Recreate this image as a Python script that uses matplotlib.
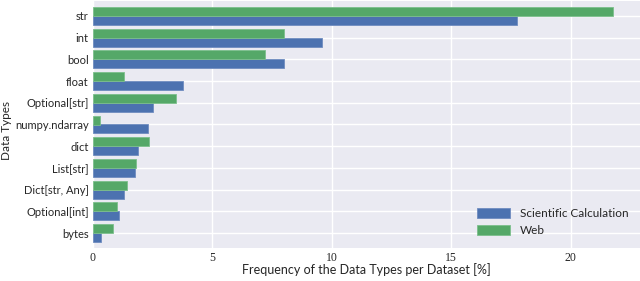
import matplotlib
matplotlib.use("Agg")
import matplotlib.pyplot as plt
import numpy as np

# data types, top to bottom
types = ["str", "int", "bool", "float", "Optional[str]", "numpy.ndarray",
         "dict", "List[str]", "Dict[str, Any]", "Optional[int]", "bytes"]
scientific = [17.75, 9.6, 7.98, 3.78, 2.51, 2.29, 1.87, 1.74, 1.31, 1.10, 0.33]
web = [21.77, 8.0, 7.18, 1.30, 3.46, 0.28, 2.34, 1.80, 1.42, 0.99, 0.85]

blue = "#4C72B0"
green = "#55A868"

fig = plt.figure(figsize=(6.4, 2.81), dpi=100)
ax = fig.add_axes([93 / 640, 33 / 281, 547 / 640, 247 / 281])
ax.set_facecolor("#EAEAF2")

pos = np.arange(len(types))[::-1]
h = 0.41
ax.barh(pos - h / 2, scientific, height=h, color=blue, edgecolor="#6f8cc0",
        linewidth=0.6, label="Scientific Calculation", zorder=2)
ax.barh(pos + h / 2, web, height=h, color=green, edgecolor="#7cbf8c",
        linewidth=0.6, label="Web", zorder=2)

ax.set_yticks(pos)
ax.set_yticklabels(types, family="Lato", fontsize=8, color="#262626")
ax.set_xticks([0, 5, 10, 15, 20])
ax.set_xticklabels(["0", "5", "10", "15", "20"], family="Liberation Serif",
                   fontsize=8.5, color="#262626")
ax.set_xlim(0, 22.9)
ax.set_ylim(-0.69, len(types) - 1 + 0.69)
ax.tick_params(length=0, pad=3)
ax.grid(True, color="white", linewidth=1.0, zorder=0)
ax.set_axisbelow(True)
for s in ax.spines.values():
    s.set_visible(False)

ax.set_xlabel("Frequency of the Data Types per Dataset [%]", family="Lato",
              fontsize=9, color="#262626", va="center")
ax.set_ylabel("Data Types", family="Lato", fontsize=8.5, color="#262626",
              va="center")
ax.xaxis.set_label_coords((366 - 93) / 547, (248 - 270) / 247)
ax.yaxis.set_label_coords((7 - 93) / 547, (248 - 131) / 247)

leg = ax.legend(loc="lower right", frameon=False, prop={"family": "Lato", "size": 8.5},
                handlelength=2.8, handleheight=1.0, borderaxespad=0.6,
                labelspacing=0.5)
for t in leg.get_texts():
    t.set_color("#262626")

fig.savefig("out.png", dpi=100)
